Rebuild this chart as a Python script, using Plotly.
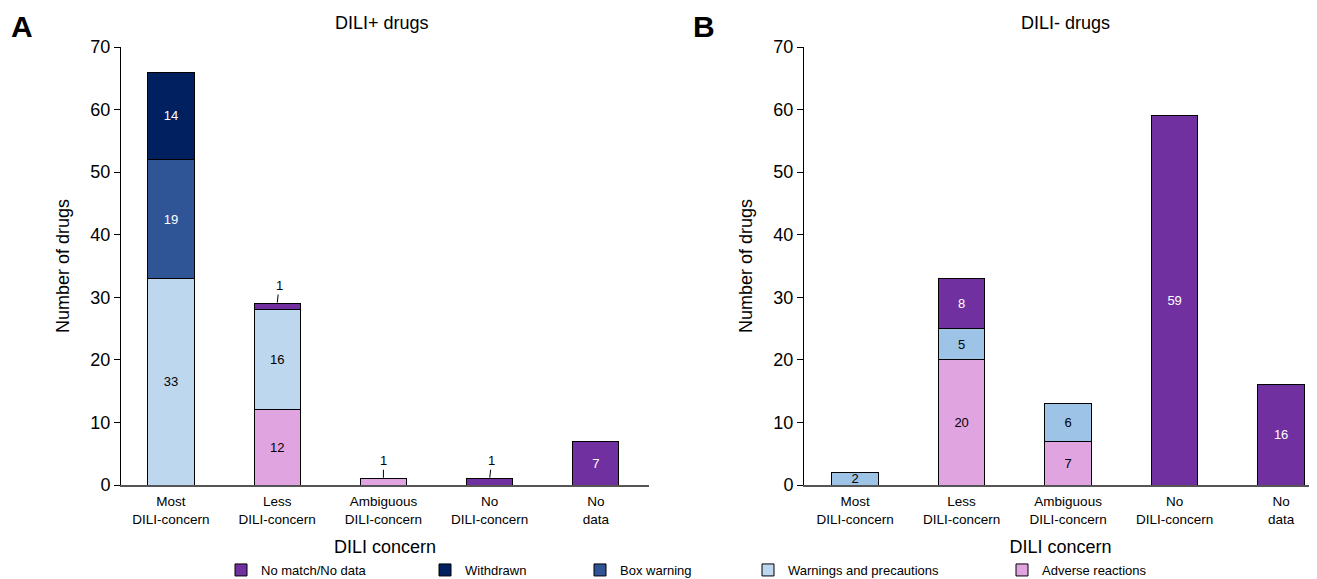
import plotly.graph_objects as go

# ---------------- data ----------------
categories = ["Most<br>DILI-concern", "Less<br>DILI-concern", "Ambiguous<br>DILI-concern",
              "No<br>DILI-concern", "No<br>data"]

# DILI+ drugs (panel A)
pos_adverse = [0, 12, 1, 0, 0]
pos_warnings = [33, 16, 0, 0, 0]
pos_box = [19, 0, 0, 0, 0]
pos_withdrawn = [14, 0, 0, 0, 0]
pos_nomatch = [0, 1, 0, 1, 7]

# DILI- drugs (panel B)
neg_adverse = [0, 20, 7, 0, 0]
neg_warnings = [2, 5, 6, 0, 0]
neg_box = [0, 0, 0, 0, 0]
neg_withdrawn = [0, 0, 0, 0, 0]
neg_nomatch = [0, 8, 0, 59, 16]

series_names = ["Adverse reactions", "Warnings and precautions", "Box warning",
                "Withdrawn", "No match/No data"]

# ---------------- styles ----------------
OFF = 8  # page body margin
W, H = 1317 - OFF, 579 - OFF
FONT = "Liberation Sans, Arial, sans-serif"
NARROW = "Liberation Sans Narrow, Arial Narrow, Liberation Sans, Arial, sans-serif"
colors_A = {"Adverse reactions": "#e0a4e0", "Warnings and precautions": "#bdd7ee",
            "Box warning": "#2f5597", "Withdrawn": "#002060", "No match/No data": "#7030a0"}
colors_B = dict(colors_A)
colors_B["Warnings and precautions"] = "#9dc3e6"
text_colors = {"Adverse reactions": "black", "Warnings and precautions": "black",
               "Box warning": "white", "Withdrawn": "white", "No match/No data": "white"}
legend_ids = {"No match/No data": "legend", "Withdrawn": "legend2", "Box warning": "legend3",
              "Warnings and precautions": "legend4", "Adverse reactions": "legend5"}
legend_swatch_px = {"legend": 241, "legend2": 445, "legend3": 600, "legend4": 768, "legend5": 1022}

panel_A = [pos_adverse, pos_warnings, pos_box, pos_withdrawn, pos_nomatch]
panel_B = [neg_adverse, neg_warnings, neg_box, neg_withdrawn, neg_nomatch]

fig = go.Figure()
annotations = []


def add_panel(values_list, xa, ya, colors, show_legend, xref, yref):
    totals = [0] * len(categories)
    for name, vals in zip(series_names, values_list):
        yv = [v if v else None for v in vals]
        txt = [str(v) if v and v > 1 else "" for v in vals]
        fig.add_trace(go.Bar(
            x=categories, y=yv, name=name, text=txt,
            textposition="inside", insidetextanchor="middle", constraintext="none",
            textangle=0,
            textfont=dict(color=text_colors[name], size=13, family=NARROW),
            marker=dict(color=colors[name], line=dict(color="black", width=1)),
            xaxis=xa, yaxis=ya, showlegend=show_legend, legend=legend_ids[name],
            hoverinfo="x+y+name",
        ))
        for i, v in enumerate(vals):
            if v:
                totals[i] += v
                if v == 1:
                    annotations.append(dict(
                        x=categories[i], y=totals[i], xref=xref, yref=yref, text="1",
                        showarrow=True, arrowhead=0, arrowwidth=1, arrowcolor="black",
                        ax=2 if name == "No match/No data" else 0, ay=-18, standoff=1,
                        font=dict(size=13, family=NARROW, color="black")))


add_panel(panel_A, "x", "y", colors_A, True, "x", "y")
add_panel(panel_B, "x2", "y2", colors_B, False, "x2", "y2")

axis_y = dict(range=[0, 70], dtick=10, showline=True, linecolor="black", linewidth=1,
              ticks="outside", ticklen=6, tickcolor="black", tickwidth=1,
              tickfont=dict(size=18, family=FONT, color="black"), showgrid=False, zeroline=False,
              title=dict(text="Number of drugs", font=dict(size=18, family=FONT, color="black"),
                         standoff=16))
axis_x = dict(showline=True, linecolor="#555555", linewidth=2, ticks="", showgrid=False,
              tickfont=dict(size=13.5, family=FONT, color="black"), ticklabelstandoff=3,
              title=dict(text="DILI concern", font=dict(size=18, family=FONT, color="black"),
                         standoff=15))

top_px, bottom_px = 47 - OFF, 485 - OFF
fig.update_layout(
    width=W, height=H, margin=dict(l=0, r=0, t=top_px, b=H - bottom_px, autoexpand=False),
    paper_bgcolor="white", plot_bgcolor="white",
    barmode="stack", bargap=0.565,
    font=dict(family=FONT, color="black"),
    xaxis=dict(axis_x, domain=[(121 - OFF) / W, (649 - OFF) / W], range=[-0.47, 4.5]),
    yaxis=dict(axis_y, anchor="x"),
    xaxis2=dict(axis_x, domain=[(804 - OFF) / W, 1.0], range=[-0.48, 4.337]),
    yaxis2=dict(axis_y, anchor="x2"),
)

plot_h = bottom_px - top_px
leg_y = (485 - 570) / plot_h
for lid, px in legend_swatch_px.items():
    fig.update_layout({lid: dict(x=(px - OFF - 20) / W, xanchor="left", y=leg_y, yanchor="middle",
                                 orientation="h", bgcolor="rgba(0,0,0,0)",
                                 font=dict(size=13, family=FONT, color="black"))})

page_labels = [
    ("<b>A</b>", 22, 27, 30),
    ("<b>B</b>", 704, 27, 30),
    ("DILI+ drugs", 382, 23, 18),
    ("DILI- drugs", 1065, 23, 18),
]
for txt, px, py, size in page_labels:
    annotations.append(dict(text=txt, x=(px - OFF) / W, y=(bottom_px - (py - OFF)) / plot_h,
                            xref="paper", yref="paper", showarrow=False,
                            xanchor="center", yanchor="middle",
                            font=dict(size=size, family=FONT, color="black")))

fig.update_layout(annotations=annotations)
fig.write_html("out.html")
